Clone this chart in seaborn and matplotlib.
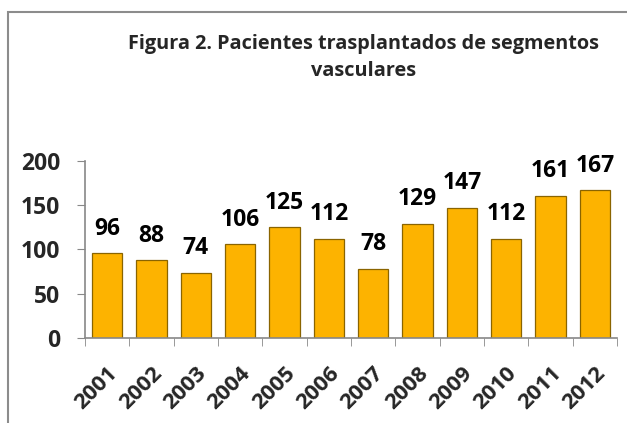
import matplotlib
matplotlib.use("Agg")
import matplotlib.pyplot as plt
import matplotlib.transforms as mtrans
import seaborn as sns
import pandas as pd
import numpy as np
from matplotlib.patches import Rectangle

years = ["2001", "2002", "2003", "2004", "2005", "2006", "2007", "2008", "2009", "2010", "2011", "2012"]
values = [96, 88, 74, 106, 125, 112, 78, 129, 147, 112, 161, 167]
yticks = [0, 50, 100, 150, 200]
title = "Figura 2. Pacientes trasplantados de segmentos\nvasculares"

sns.set_style("white")
plt.rcParams["font.family"] = ["Open Sans", "DejaVu Sans"]

df = pd.DataFrame({"year": years, "value": values})

W, H = 627, 423
fig = plt.figure(figsize=(W / 100, H / 100), dpi=100)
ax = fig.add_axes([85 / W, 1 - 338 / H, (617 - 85) / W, (338 - 161) / H])

sns.barplot(data=df, x="year", y="value", color="#FDB300", width=0.68,
            edgecolor="#8A6400", linewidth=0.9, saturation=1, ax=ax)

for c in ax.containers:
    ax.bar_label(c, fontsize=16.5, fontweight="bold", padding=9, color="black")

ax.set_ylim(0, 200)
ax.set_xlim(-0.5, len(years) - 0.5)
ax.set_yticks(yticks)
ax.set_yticklabels([str(t) for t in yticks], fontsize=16.5, fontweight="bold")
ax.set_xticks(range(len(years)))
ax.set_xticklabels(years, rotation=45, ha="right", rotation_mode="anchor",
                   fontsize=16, fontweight="bold")
off = mtrans.ScaledTranslation(4 / 100, 0, fig.dpi_scale_trans)
for lab in ax.get_xticklabels():
    lab.set_transform(lab.get_transform() + off)
ax.set_xticks(np.arange(-0.5, len(years)), minor=True)
ax.tick_params(axis="x", which="major", length=0, pad=18)
ax.tick_params(axis="x", which="minor", length=6, color="#888888", direction="out", bottom=True)
ax.tick_params(axis="y", length=6, color="#888888", direction="out", left=True, pad=12)
ax.set_xlabel("")
ax.set_ylabel("")
for s in ["top", "right"]:
    ax.spines[s].set_visible(False)
for s in ["left", "bottom"]:
    ax.spines[s].set_color("#888888")
    ax.spines[s].set_linewidth(1.2)

fig.text(364 / W, 1 - 76 / H, title, ha="center", va="baseline", fontsize=14.3,
         fontweight="bold", linespacing=1.45, multialignment="center")

fig.patches.append(Rectangle((8 / W, -0.1), 1.2, 1 - 12 / H + 0.1, transform=fig.transFigure,
                             fill=False, edgecolor="#8C8C8C", linewidth=1.5))

fig.savefig("out.png", dpi=100)
